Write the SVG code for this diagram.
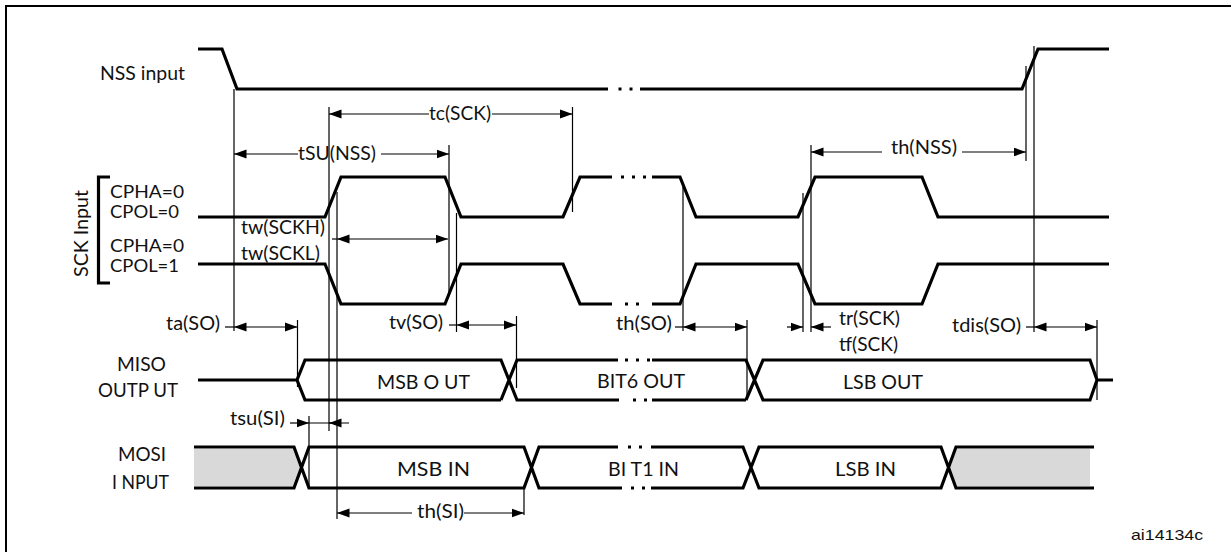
<svg xmlns="http://www.w3.org/2000/svg" width="1231" height="552" viewBox="0 0 1231 552">
<style>
text{font-family:Lato,"Open Sans","Liberation Sans",sans-serif;font-size:19.500px;fill:#111}
text.s{font-size:18px}
.sig{fill:none;stroke:#000;stroke-width:3.200;stroke-linejoin:miter}
.dot{fill:none;stroke:#000;stroke-width:3.200}
.g{fill:none;stroke:#000;stroke-width:1.200}
.d{fill:none;stroke:#000;stroke-width:1.200}
.fill{fill:#d9d9d9;stroke:none}
</style>
<defs>
<marker id="a" markerUnits="userSpaceOnUse" markerWidth="13" markerHeight="10" refX="12.500" refY="5" orient="auto-start-reverse"><path d="M0 0.500L12.500 5L0 9.500Z" fill="#000"/></marker>
</defs>
<rect width="1231" height="552" fill="#fff"/>
<path id="frame" d="M6 552V6H1231" fill="none" stroke="#000" stroke-width="2"/>
<g id="connectors">
<path class="g" d="M234 89V331M329 107V431M337 192V519M449 145V292M456.500 213V332M572.500 107V212M683 187V331M803 193V332M811 145V332M1026 66V161M1034 46V332M297.500 320V387M516.500 316V388M747 320V400M1097 320V400M309 416V487M524 485V515"/>
<path class="d" marker-start="url(#a)" d="M329 114H429"/>
<path class="d" marker-end="url(#a)" d="M492 114H572.500"/>
<path class="d" marker-start="url(#a)" d="M234 154H298"/>
<path class="d" marker-end="url(#a)" d="M381 154H449"/>
<path class="d" d="M332 239H337"/>
<path class="d" marker-start="url(#a)" marker-end="url(#a)" d="M337 239H448"/>
<path class="d" marker-start="url(#a)" d="M811 152H882"/>
<path class="d" marker-end="url(#a)" d="M962 152H1026"/>
<path class="d" d="M225 327H234"/>
<path class="d" marker-start="url(#a)" marker-end="url(#a)" d="M234 327H297.500"/>
<path class="d" d="M449 325H456.500"/>
<path class="d" marker-start="url(#a)" marker-end="url(#a)" d="M456.500 325H516.500"/>
<path class="d" d="M675 327H683"/>
<path class="d" marker-start="url(#a)" marker-end="url(#a)" d="M683 327H747"/>
<path class="d" marker-end="url(#a)" d="M787 327H803"/>
<path class="d" marker-start="url(#a)" d="M811 327H831"/>
<path class="d" d="M1026 327H1034"/>
<path class="d" marker-start="url(#a)" marker-end="url(#a)" d="M1034 327H1097"/>
<path class="d" marker-end="url(#a)" d="M290 423H309"/>
<path class="d" d="M309 423H349"/>
<path class="d" marker-start="url(#a)" d="M329 423H341"/>
<path class="d" marker-start="url(#a)" d="M337 513H412"/>
<path class="d" marker-end="url(#a)" d="M464 513H524"/>
</g>
<g id="nss">
<path class="sig" d="M198 49H222L237 89H608M640 89H1022L1038 49H1109"/>
<path class="dot" stroke-dasharray="3 8" d="M618.500 89H636"/>
<text x="100" y="80" textLength="85" lengthAdjust="spacingAndGlyphs">NSS input</text>
</g>
<g id="sck">
<path class="sig" d="M198 217H325L341 177H445L461 217H563L580 177H612M652 177H680L696 217H798L815 177H922L938 217H1109"/>
<path class="sig" d="M198 264H325L341 304H445L461 264H563L580 304H612M652 304H680L696 264H798L815 304H922L938 264H1109"/>
<path class="dot" stroke-dasharray="3 8" d="M621 177H646"/>
<path class="dot" stroke-dasharray="3 8" d="M625 304H646"/>
<path class="sig" d="M110 177H98.500V283H110"/>
<text transform="translate(88 277) rotate(-90)" textLength="87" lengthAdjust="spacingAndGlyphs">SCK Input</text>
<text class="s" x="110" y="198" textLength="74" lengthAdjust="spacingAndGlyphs">CPHA=0</text>
<text class="s" x="110" y="218" textLength="69" lengthAdjust="spacingAndGlyphs">CPOL=0</text>
<text class="s" x="110" y="252" textLength="74" lengthAdjust="spacingAndGlyphs">CPHA=0</text>
<text class="s" x="110" y="272" textLength="69" lengthAdjust="spacingAndGlyphs">CPOL=1</text>
</g>
<g id="miso">
<path class="sig" d="M198 380H297L305 360H501L517 400H619M652 400H746M501 400L517 360H618M652 360H746L763 400H1090L1097 380H1113M746 400L763 360H1090L1097 380M297 380L305 400H501"/>
<path class="dot" stroke-dasharray="3 8" d="M625 360H650"/>
<path class="dot" stroke-dasharray="3 8" d="M633 400H650"/>
<text x="117" y="371" textLength="49" lengthAdjust="spacingAndGlyphs">MISO</text>
<text x="98" y="397" textLength="80" lengthAdjust="spacingAndGlyphs">OUTP UT</text>
<text x="377" y="389" textLength="93" lengthAdjust="spacingAndGlyphs">MSB O UT</text>
<text x="597" y="388" textLength="88" lengthAdjust="spacingAndGlyphs">BIT6 OUT</text>
<text x="843" y="389" textLength="80" lengthAdjust="spacingAndGlyphs">LSB OUT</text>
</g>
<g id="mosi">
<path class="fill" d="M194 449H294L302 467.500L294 486H194Z"/>
<path class="fill" d="M1090 449H956L948 467.500L956 486H1090Z"/>
<path class="sig" d="M194 447H294L309 488H524L539 447H618M651 447H743L759 488H941L956 447H1094M194 488H294L309 447H524L539 488H622M651 488H743L759 447H941L956 488H1094"/>
<path class="dot" stroke-dasharray="3 8" d="M628 447H648"/>
<path class="dot" stroke-dasharray="3 8" d="M631 488H648"/>
<text x="118" y="461" textLength="48" lengthAdjust="spacingAndGlyphs">MOSI</text>
<text x="112" y="489" textLength="57" lengthAdjust="spacingAndGlyphs">I NPUT</text>
<text x="397" y="476" textLength="73" lengthAdjust="spacingAndGlyphs">MSB IN</text>
<text x="608" y="476" textLength="71" lengthAdjust="spacingAndGlyphs">BI T1 IN</text>
<text x="835" y="476" textLength="61" lengthAdjust="spacingAndGlyphs">LSB IN</text>
</g>
<g id="labels">
<text x="429" y="120" textLength="62" lengthAdjust="spacingAndGlyphs">tc(SCK)</text>
<text x="298" y="160" textLength="78" lengthAdjust="spacingAndGlyphs">tSU(NSS)</text>
<text x="241" y="234" textLength="84" lengthAdjust="spacingAndGlyphs">tw(SCKH)</text>
<text x="241" y="260" textLength="79" lengthAdjust="spacingAndGlyphs">tw(SCKL)</text>
<text x="891" y="154" textLength="66" lengthAdjust="spacingAndGlyphs">th(NSS)</text>
<text x="166" y="330" textLength="54" lengthAdjust="spacingAndGlyphs">ta(SO)</text>
<text x="389" y="329" textLength="54" lengthAdjust="spacingAndGlyphs">tv(SO)</text>
<text x="616" y="330" textLength="56" lengthAdjust="spacingAndGlyphs">th(SO)</text>
<text x="839" y="325" textLength="61" lengthAdjust="spacingAndGlyphs">tr(SCK)</text>
<text x="839" y="351" textLength="59" lengthAdjust="spacingAndGlyphs">tf(SCK)</text>
<text x="952" y="332" textLength="69" lengthAdjust="spacingAndGlyphs">tdis(SO)</text>
<text x="230" y="425" textLength="55" lengthAdjust="spacingAndGlyphs">tsu(SI)</text>
<text x="417" y="518" textLength="47" lengthAdjust="spacingAndGlyphs">th(SI)</text>
<text x="1131" y="540" textLength="72" lengthAdjust="spacingAndGlyphs" style="font-family:'Liberation Sans',Arial,sans-serif;font-size:15px">ai14134c</text>
</g>
</svg>
